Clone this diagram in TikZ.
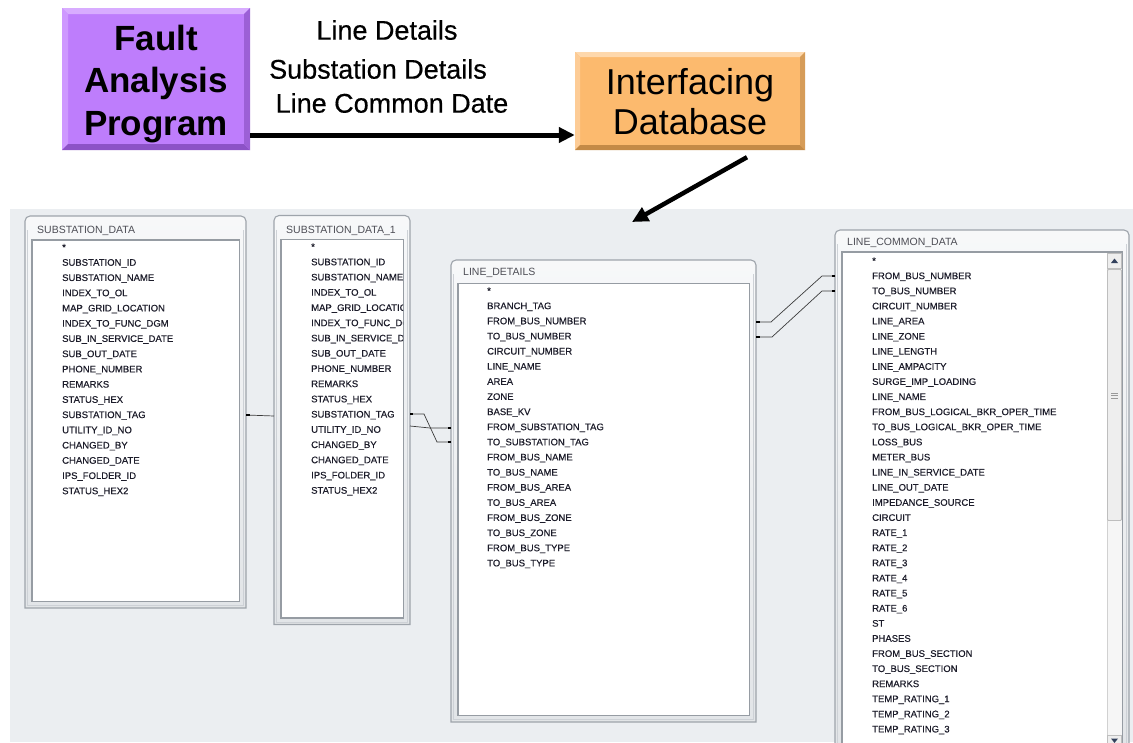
\documentclass[tikz,border=0pt]{standalone}
\usepackage{fontspec}
\setmainfont{Liberation Sans}
\newfontfamily\itemfont[FakeBold=0.35]{Liberation Sans}
\newfontfamily\lblfont[FakeBold=0.5]{Liberation Sans}
\usetikzlibrary{arrows.meta}
\definecolor{panelbg}{RGB}{235,238,241}
\definecolor{frameline}{RGB}{158,164,171}
\definecolor{framein}{RGB}{205,209,214}
\definecolor{innerline}{RGB}{150,156,163}
\definecolor{itemtxt}{RGB}{28,28,42}
\definecolor{titletxt}{RGB}{78,78,86}
\definecolor{connc}{RGB}{60,60,60}
\definecolor{purplemain}{RGB}{190,125,252}
\definecolor{purpletop}{RGB}{216,172,255}
\definecolor{purpleleft}{RGB}{206,152,255}
\definecolor{purplebot}{RGB}{140,82,198}
\definecolor{purpleright}{RGB}{156,96,214}
\definecolor{orangemain}{RGB}{252,186,110}
\definecolor{orangetop}{RGB}{254,216,172}
\definecolor{orangeleft}{RGB}{253,204,150}
\definecolor{orangebot}{RGB}{196,138,70}
\definecolor{orangeright}{RGB}{214,156,88}
\definecolor{sbbg}{RGB}{246,246,246}
\definecolor{sbbtn}{RGB}{238,238,238}
\definecolor{sbline}{RGB}{190,190,190}
\definecolor{sbarrow}{RGB}{50,64,92}
\newcommand\mybevel[5]{%
  \fill[#1] (path picture bounding box.north west) -- (path picture bounding box.north east) -- ([shift={(-#5,-#5)}]path picture bounding box.north east) -- ([shift={(#5,-#5)}]path picture bounding box.north west) -- cycle;
  \fill[#2] (path picture bounding box.north west) -- ([shift={(#5,-#5)}]path picture bounding box.north west) -- ([shift={(#5,#5)}]path picture bounding box.south west) -- (path picture bounding box.south west) -- cycle;
  \fill[#3] (path picture bounding box.south west) -- ([shift={(#5,#5)}]path picture bounding box.south west) -- ([shift={(-#5,#5)}]path picture bounding box.south east) -- (path picture bounding box.south east) -- cycle;
  \fill[#4] (path picture bounding box.south east) -- ([shift={(-#5,#5)}]path picture bounding box.south east) -- ([shift={(-#5,-#5)}]path picture bounding box.north east) -- (path picture bounding box.north east) -- cycle;
}
\newcommand\dbframe[5]{% x1 y1 x2 y2 innertop
  \draw[draw=frameline, line width=1.1pt, top color=white!60!panelbg, bottom color=panelbg!96!black]
    (#1,#4) -- (#1,#2+10) [rounded corners=5pt] -- (#1,#2) -- (#3,#2) -- (#3,#2+10) [sharp corners] -- (#3,#4) -- cycle;
  \draw[draw=framein, line width=0.8pt] (#1+2.5,#2+14) -- (#1+2.5,#4-2.5) -- (#3-2.5,#4-2.5) -- (#3-2.5,#2+14);
  \draw[draw=innerline, line width=1.1pt, fill=white] (#1+7,#5) rectangle (#3-6.5,#4-6.5);
}
\tikzset{
  item/.style={anchor=west, inner sep=0pt, font=\itemfont\fontsize{9.5}{11}\selectfont, text=itemtxt, text height=6.8pt, text depth=1.8pt},
  titlet/.style={anchor=west, inner sep=0pt, font=\fontsize{10.5}{12}\selectfont, text=titletxt, text height=7pt, text depth=2pt},
  fapbox/.style={fill=purplemain, minimum width=188pt, minimum height=142pt, inner sep=0pt,
    path picture={\mybevel{purpletop}{purpleleft}{purplebot}{purpleright}{6pt}}},
  idbbox/.style={fill=orangemain, minimum width=230pt, minimum height=98pt, inner sep=0pt,
    path picture={\mybevel{orangetop}{orangeleft}{orangebot}{orangeright}{5pt}}},
  faptext/.style={align=center, inner sep=0pt, font=\fontsize{35}{42.5}\selectfont\bfseries},
  idbtext/.style={align=center, inner sep=0pt, font=\fontsize{36}{40}\selectfont},
  flowlbl/.style={inner sep=0pt, font=\lblfont\fontsize{27}{30}\selectfont},
  bigarrow/.style={line width=5pt, -{Triangle[length=16pt,width=15pt]}},
  conn/.style={draw=connc, line width=0.7pt},
  cmark/.style={draw=black, line width=2pt},
}
\begin{document}
\begin{tikzpicture}[x=1pt,y=-1pt]
\useasboundingbox (0,0) rectangle (1133,742);
\clip (0,0) rectangle (1133,742);
\fill[white] (0,0) rectangle (1133,742);

% ---------- top flow ----------
\node[fapbox] (fap) at (156,79) {};
\node[faptext] (faplabel) at (156,84) {Fault\\Analysis\\Program};
\node[idbbox] (idb) at (690,101) {};
\node[idbtext] (idblabel) at (690,102) {Interfacing\\Database};

\node[flowlbl] (l1) at (387,30) {Line Details};
\node[flowlbl] (l2) at (378,69) {Substation Details};
\node[flowlbl] (l3) at (392,103) {Line Common Date};

\draw[bigarrow] ([yshift=-56pt]fap.east) -- ([yshift=-34pt]idb.west);

% ---------- panel ----------
\fill[panelbg] (10,209) rectangle (1133,742);
\coordinate (paneltip) at (632,222);
\draw[bigarrow, line width=4.5pt] ([xshift=57pt,yshift=-7pt]idb.south) -- (paneltip);

% ---------- tables ----------
\dbframe{25}{216}{246}{608}{240}
\node[titlet] (sd-title) at (37,231) {SUBSTATION\_DATA};
\foreach \t [count=\i] in {*,SUBSTATION\_ID,SUBSTATION\_NAME,INDEX\_TO\_OL,MAP\_GRID\_LOCATION,INDEX\_TO\_FUNC\_DGM,SUB\_IN\_SERVICE\_DATE,SUB\_OUT\_DATE,PHONE\_NUMBER,REMARKS,STATUS\_HEX,SUBSTATION\_TAG,UTILITY\_ID\_NO,CHANGED\_BY,CHANGED\_DATE,IPS\_FOLDER\_ID,STATUS\_HEX2}
  \node[item] (sd-\i) at (62,{248+15.23*(\i-1)}) {\t};

\dbframe{274}{215.5}{410}{624.5}{239.5}
\node[titlet] (sdb-title) at (286,231) {SUBSTATION\_DATA\_1};
\begin{scope}
\clip (281.5,240) rectangle (403,618);
\foreach \t [count=\i] in {*,SUBSTATION\_ID,SUBSTATION\_NAME,INDEX\_TO\_OL,MAP\_GRID\_LOCATION,INDEX\_TO\_FUNC\_DGM,SUB\_IN\_SERVICE\_DATE,SUB\_OUT\_DATE,PHONE\_NUMBER,REMARKS,STATUS\_HEX,SUBSTATION\_TAG,UTILITY\_ID\_NO,CHANGED\_BY,CHANGED\_DATE,IPS\_FOLDER\_ID,STATUS\_HEX2}
  \node[item] (sdb-\i) at (311,{247.5+15.23*(\i-1)}) {\t};
\end{scope}

\dbframe{451}{260}{756}{722}{283.5}
\node[titlet] (ld-title) at (463,273) {LINE\_DETAILS};
\begin{scope}
\clip (458.5,284) rectangle (749,715);
\foreach \t [count=\i] in {*,BRANCH\_TAG,FROM\_BUS\_NUMBER,TO\_BUS\_NUMBER,CIRCUIT\_NUMBER,LINE\_NAME,AREA,ZONE,BASE\_KV,FROM\_SUBSTATION\_TAG,TO\_SUBSTATION\_TAG,FROM\_BUS\_NAME,TO\_BUS\_NAME,FROM\_BUS\_AREA,TO\_BUS\_AREA,FROM\_BUS\_ZONE,TO\_BUS\_ZONE,FROM\_BUS\_TYPE,TO\_BUS\_TYPE}
  \node[item] (ld-\i) at (487,{291.5+15.13*(\i-1)}) {\t};
\end{scope}

\dbframe{835}{230}{1129}{760}{252}
\node[titlet] (lcd-title) at (847,243) {LINE\_COMMON\_DATA};
\begin{scope}
\clip (842.5,252.5) rectangle (1106,742);
\foreach \t [count=\i] in {*,FROM\_BUS\_NUMBER,TO\_BUS\_NUMBER,CIRCUIT\_NUMBER,LINE\_AREA,LINE\_ZONE,LINE\_LENGTH,LINE\_AMPACITY,SURGE\_IMP\_LOADING,LINE\_NAME,FROM\_BUS\_LOGICAL\_BKR\_OPER\_TIME,TO\_BUS\_LOGICAL\_BKR\_OPER\_TIME,LOSS\_BUS,METER\_BUS,LINE\_IN\_SERVICE\_DATE,LINE\_OUT\_DATE,IMPEDANCE\_SOURCE,CIRCUIT,RATE\_1,RATE\_2,RATE\_3,RATE\_4,RATE\_5,RATE\_6,ST,PHASES,FROM\_BUS\_SECTION,TO\_BUS\_SECTION,REMARKS,TEMP\_RATING\_1,TEMP\_RATING\_2,TEMP\_RATING\_3}
  \node[item] (lcd-\i) at (872,{261.5+15.11*(\i-1)}) {\t};
\end{scope}

% scrollbar
\fill[sbbg] (1107,253) rectangle (1122,745);
\draw[draw=sbline!70!white, line width=0.6pt] (1107,253) -- (1107,745);
\draw[fill=sbbtn, draw=sbline, line width=0.6pt] (1107.5,253.5) rectangle (1121.5,268.5);
\fill[sbarrow] (1111,263) -- (1118,263) -- (1114.5,258.5) -- cycle;
\draw[fill=sbbtn, draw=sbline, line width=0.8pt, rounded corners=1pt] (1107.5,269.5) rectangle (1121.5,520.5);
\foreach \g in {393,395.5,398} \draw[draw=gray!80, line width=0.7pt] (1111,\g) -- (1118,\g);
\draw[fill=sbbtn, draw=sbline, line width=0.6pt] (1107.5,735.5) rectangle (1121.5,750);
\fill[sbarrow] (1111,738.5) -- (1118,738.5) -- (1114.5,743) -- cycle;

% ---------- connectors ----------
\coordinate (c1s) at (246,415);
\coordinate (c1e) at (274,416);
\draw[conn] (c1s) -- (c1e);
\draw[cmark] (c1s) -- ++(4,0);

\coordinate (c2as) at (410,414);
\coordinate (c2ae) at (451,442);
\draw[conn] (c2as) -- ++(14,0) -- ++(13,28) -- (c2ae);
\coordinate (c2bs) at (410,426);
\coordinate (c2be) at (451,428);
\draw[conn] (c2bs) -- ++(20,2) -- (c2be);
\draw[cmark] (c2as) -- ++(3,0);
\draw[cmark] (c2ae) -- ++(-3,0);
\draw[cmark] (c2be) -- ++(-3,0);

\coordinate (c3as) at (756,322);
\coordinate (c3ae) at (835,276);
\draw[conn] (c3as) -- ++(15,0) -- ++(51,-46) -- (c3ae);
\coordinate (c3bs) at (756,337);
\coordinate (c3be) at (835,291);
\draw[conn] (c3bs) -- ++(16,0) -- ++(50,-46) -- (c3be);
\draw[cmark] (c3as) -- ++(3.5,0);
\draw[cmark] (c3bs) -- ++(3.5,0);
\draw[cmark] (c3ae) -- ++(-3.5,0);
\draw[cmark] (c3be) -- ++(-3.5,0);
\end{tikzpicture}
\end{document}
